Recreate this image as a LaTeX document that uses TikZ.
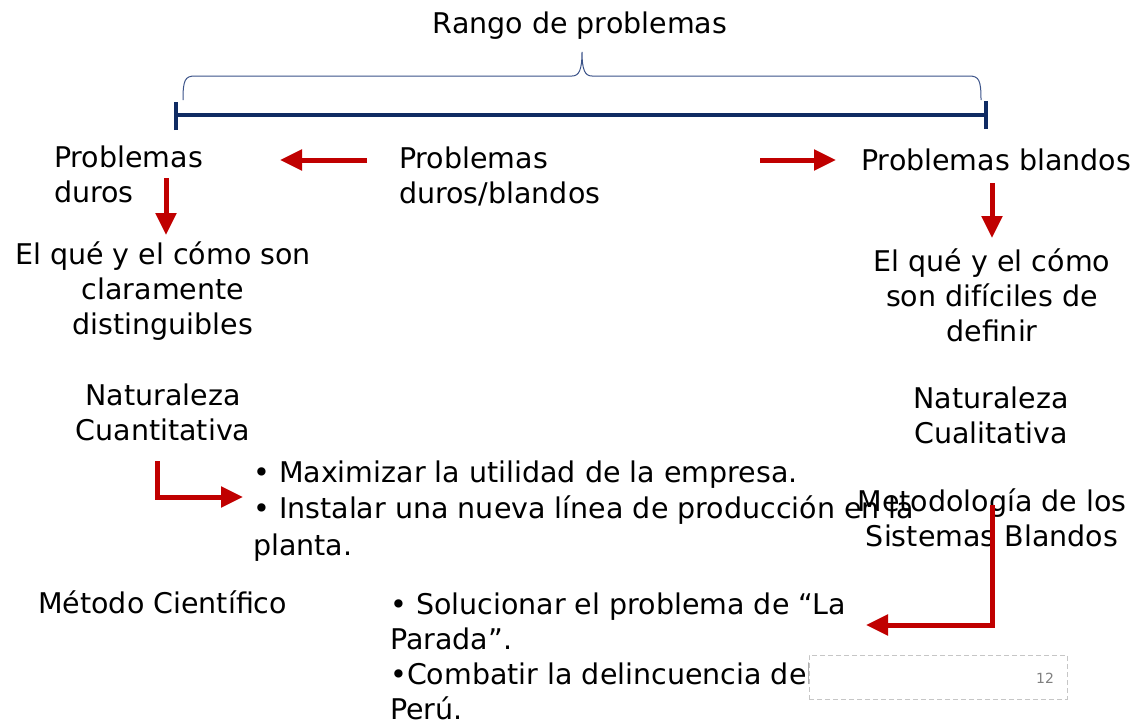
\documentclass[tikz,border=0pt]{standalone}
\usepackage{fontspec}
\setmainfont{DejaVu Sans}
\usepackage{xcolor}
\usetikzlibrary{arrows.meta,positioning}

\definecolor{navyline}{HTML}{0F2B63}
\definecolor{bracecol}{HTML}{3A5288}
\definecolor{redarrow}{HTML}{C00000}

\begin{document}
\begin{tikzpicture}[
  x=1pt, y=-1pt,
  txt/.style={inner sep=0pt, align=center, font=\fontsize{28.5}{35}\selectfont},
  txtL/.style={txt, align=left, anchor=west},
  arrow/.style={-{Triangle[length=22pt, width=20pt]}, line width=5pt, draw=redarrow},
  scaleline/.style={line width=4pt, draw=navyline},
  pagebox/.style={rectangle, draw=gray!45, dash pattern=on 5pt off 3pt, fill=white, line width=1pt,
    minimum width=258pt, minimum height=44pt, inner sep=0pt}
]
  \useasboundingbox (0,0) rectangle (1137,726);

  % title and brace
  \node[txt] (rango) at (580,26) {Rango de problemas};
  \draw[bracecol, line width=1pt] (183,100) .. controls (183,80) and (185,76) .. (195,76)
    -- (572,76) .. controls (579,76) and (582,70) .. (582,52)
    .. controls (582,70) and (585,76) .. (592,76) -- (969,76)
    .. controls (979,76) and (981,80) .. (981,100);

  % scale line
  \coordinate (sL) at (176,115);
  \coordinate (sR) at (986,115);
  \draw[scaleline] (sL) -- (sR);
  \draw[line width=3.5pt, navyline] ([yshift=-15pt]sL) -- ([yshift=13pt]sL);
  \draw[line width=3.5pt, navyline] ([yshift=-14pt]sR) -- ([yshift=14pt]sR);

  % top row
  \node[txtL] (duros) at (54,174) {Problemas\\duros};
  \node[txtL] (mixto) at (399,176) {Problemas\\duros/blandos};
  \node[txtL] (blandos) at (861,160) {Problemas blandos};

  % left column
  \node[txt] (defDuros) at (163,291) {El qué y el cómo son\\claramente\\distinguibles};
  \node[txt] (cuanti) at (163,412) {Naturaleza\\Cuantitativa};
  \node[txtL, font=\fontsize{28.5}{36.5}\selectfont] (ejDuros) at (253,511) {• Maximizar la utilidad de la empresa.\\• Instalar una nueva línea de producción en la\\planta.};
  \node[txtL] (cientifico) at (38,602) {Método Científico};

  % right column
  \node[txt] (defBlandos) at (992,295) {El qué y el cómo\\son difíciles de\\definir};
  \node[txt] (cuali) at (991,415) {Naturaleza\\Cualitativa};
  \node[txt] (ssm) at (992,518) {Metodología de los\\Sistemas Blandos};
  \node[txtL] (ejBlandos) at (390,656) {• Solucionar el problema de “La\\Parada”.\\•Combatir la delincuencia del\\Perú.};

  % arrows
  \coordinate (aL1) at (367,160);
  \coordinate (aL2) at (280,160);
  \draw[arrow] (aL1) -- (aL2);
  \coordinate (aR1) at (760,160);
  \coordinate (aR2) at (836,160);
  \draw[arrow] (aR1) -- (aR2);
  \coordinate (dL1) at (166,178);
  \coordinate (dL2) at (166,235);
  \draw[arrow] (dL1) -- (dL2);
  \coordinate (dR1) at (992,183);
  \coordinate (dR2) at (992,238);
  \draw[arrow] (dR1) -- (dR2);
  \coordinate (eL1) at (157,461);
  \coordinate (eL2) at (243,497);
  \draw[arrow] (eL1) |- (eL2);
  \coordinate (eR1) at (992,505);
  \coordinate (eR2) at (866,625);
  \draw[arrow] (eR1) |- (eR2);

  % page number box
  \node[pagebox] (pagina) at (938,677) {};
  \node[inner sep=0pt, font=\fontsize{14}{16}\selectfont, text=gray] (num) at (1045,678) {12};
\end{tikzpicture}
\end{document}
